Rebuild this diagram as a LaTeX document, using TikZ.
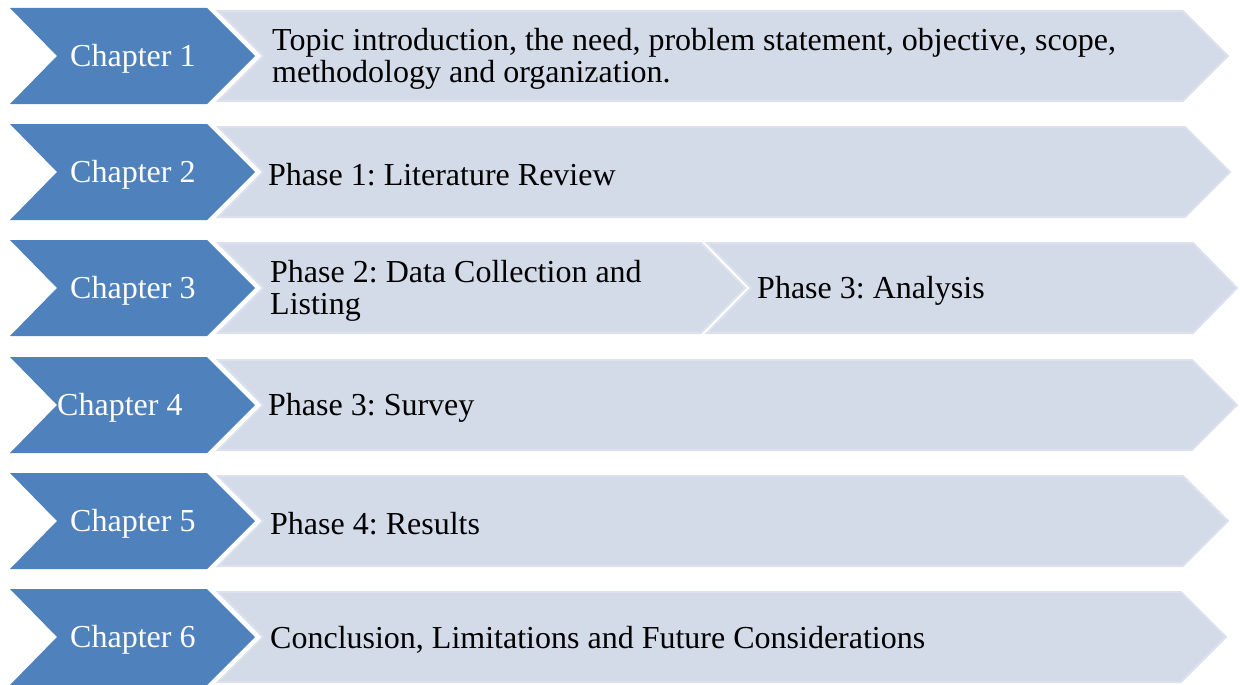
\documentclass[tikz,border=0pt]{standalone}
\usepackage{fontspec}
\setmainfont{Liberation Serif}
\frenchspacing
\definecolor{chblue}{HTML}{4F81BD}
\definecolor{lightfill}{HTML}{D3DAE8}
\definecolor{lightedge}{HTML}{DCE1ED}
\begin{document}
\begin{tikzpicture}[x=1pt,y=-1pt,
  bluechev/.style={fill=chblue},
  lightchev/.style={fill=lightfill,draw=lightedge,line width=2pt,line join=miter},
  chaptext/.style={text=white,font=\fontsize{32}{33}\selectfont\frenchspacing,inner sep=0pt,anchor=west},
  phasetext/.style={text=black,font=\fontsize{32}{32.5}\selectfont\frenchspacing,inner sep=0pt,anchor=west,align=left}]
\useasboundingbox (0,0) rectangle (1240,685);
% rows
\foreach \yc/\tip in {56/1228,172/1230,405/1237,521/1228,637/1226}{
  \fill[bluechev] (10,\yc-48) -- (207,\yc-48) -- (255,\yc) -- (207,\yc+48) -- (10,\yc+48) -- (57,\yc) -- cycle;
  \draw[lightchev] (218,\yc-45) -- (\tip-45,\yc-45) -- (\tip,\yc) -- (\tip-45,\yc+45) -- (218,\yc+45) -- (263,\yc) -- cycle;
}
% row 3
\fill[bluechev] (10,240) -- (207,240) -- (255,288) -- (207,336) -- (10,336) -- (57,288) -- cycle;
\draw[lightchev] (218,243) -- (701,243) -- (745,288) -- (701,333) -- (218,333) -- (263,288) -- cycle;
\draw[lightchev] (707,243) -- (1193,243) -- (1237,288) -- (1193,333) -- (707,333) -- (751,288) -- cycle;
% chapter labels
\node[chaptext] (c1) at (70,59) {Chapter 1};
\node[chaptext] (c2) at (70,175) {Chapter 2};
\node[chaptext] (c3) at (70,291) {Chapter 3};
\node[chaptext] (c4) at (57,408) {Chapter 4};
\node[chaptext] (c5) at (70,524) {Chapter 5};
\node[chaptext] (c6) at (70,640) {Chapter 6};
% phase labels
\node[phasetext] (p1) at (272,59) {Topic introduction, the need, problem statement, objective, scope,\\methodology and organization.};
\node[phasetext] (p2) at (268,175) {Phase 1: Literature Review};
\node[phasetext] (p3a) at (270,291) {Phase 2: Data Collection and\\Listing};
\node[phasetext] (p3b) at (757,291) {Phase 3: Analysis};
\node[phasetext] (p4) at (268,408) {Phase 3: Survey};
\node[phasetext] (p5) at (270,524) {Phase 4: Results};
\node[phasetext] (p6) at (270,640) {Conclusion, Limitations and Future Considerations};
\end{tikzpicture}
\end{document}
